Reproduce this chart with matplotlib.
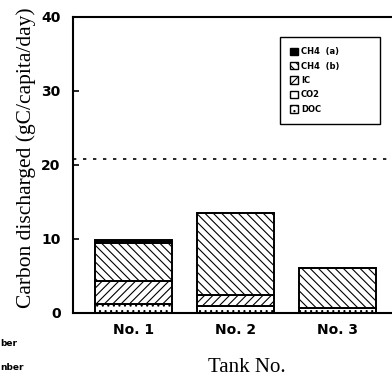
import matplotlib.pyplot as plt
import numpy as np
from matplotlib.patches import Patch

plt.rcParams['hatch.linewidth'] = 0.8

tanks = ['No. 1', 'No. 2', 'No. 3']
doc = [1.2, 0.9, 0.7]      # DOC
co2 = [0.0, 0.0, 0.0]      # CO2
ic = [3.1, 1.5, 0.0]       # IC
ch4_b = [5.2, 11.1, 5.4]   # CH4 (b)
ch4_a = [0.4, 0.0, 0.0]    # CH4 (a)
limit_line = 20.8
yticks = [0, 10, 20, 30, 40]

fig = plt.figure(figsize=(3.92, 3.81), dpi=100)
ax = fig.add_axes([73/392, 68/381, 1 - 73/392, 296/381])

x = np.arange(len(tanks))
w = 0.755
bottom = np.zeros(len(tanks))
layers = [
    (doc, 'white', '...', 'DOC'),
    (co2, 'white', '', 'CO2'),
    (ic, 'white', '////', 'IC'),
    (ch4_b, 'white', '\\\\\\\\', 'CH4  (b)'),
    (ch4_a, 'black', '', 'CH4  (a)'),
]
for vals, fc, hatch, lab in layers:
    ax.bar(x, vals, w, bottom=bottom, color=fc, edgecolor='black',
           hatch=hatch, linewidth=1.4)
    bottom += np.array(vals)

ax.axhline(limit_line, color='black', linestyle=(0, (2, 4)), linewidth=1.2)

ax.set_ylim(0, 40)
ax.set_xlim(-0.593, 2.534)
ax.set_yticks(yticks)
ax.set_xticks(x)
ax.set_xticklabels(tanks)
ax.tick_params(axis='y', direction='in', length=4, width=1.2, pad=9, labelsize=10)
ax.tick_params(axis='x', length=0, pad=7, labelsize=10)
for lbl in ax.get_xticklabels() + ax.get_yticklabels():
    lbl.set_fontweight('bold')
for s in ['left', 'bottom', 'top']:
    ax.spines[s].set_linewidth(1.5)
ax.spines['right'].set_visible(False)

ax.set_ylabel('Carbon discharged (gC/capita/day)', family='Liberation Serif',
              fontsize=15.5)
ax.yaxis.set_label_coords(-0.116, 0.524)
ax.set_xlabel('Tank No.', family='Liberation Serif', fontsize=15)
ax.xaxis.set_label_coords((247-73)/319, -(358-313)/296)

handles = [Patch(facecolor=fc, edgecolor='black', hatch=h, label=l)
           for _, fc, h, l in layers[::-1]]
leg = ax.legend(handles=handles, loc='upper left',
                bbox_to_anchor=(0.636, 0.652, 0.339, 0.294), mode='expand',
                handlelength=1.0, handleheight=1.0, labelspacing=0.65,
                handletextpad=0.3, borderpad=1.2, fancybox=False, framealpha=1,
                edgecolor='black', prop={'weight': 'bold', 'size': 6})
leg.get_frame().set_linewidth(1.0)

fig.text(0.0, (381-343)/381, 'ber', fontsize=6.5, fontweight='bold', va='center')
fig.text(0.0, (381-367)/381, 'nber', fontsize=6.5, fontweight='bold', va='center')

fig.savefig('out.png', dpi=100)
